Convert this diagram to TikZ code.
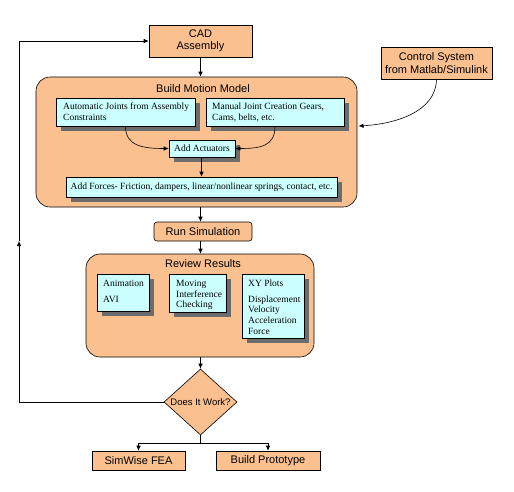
\documentclass[tikz,border=0pt]{standalone}
\usepackage{fontspec}
\setmainfont{Liberation Serif}
\setsansfont{Liberation Sans}
\usetikzlibrary{shapes.geometric,shadows,arrows.meta}
\definecolor{peach}{HTML}{FAC090}
\definecolor{cyanbox}{HTML}{CCFFFF}
\begin{document}
\begin{tikzpicture}[x=1pt,y=-1pt,
  arr/.style={-{Latex[length=5pt,width=4.5pt]},line width=0.6pt},
  orangebox/.style={draw,line width=0.6pt,fill=peach,inner sep=0pt,align=center,
    font=\sffamily\fontsize{11}{12.5}\selectfont},
  bigbox/.style={draw,line width=0.6pt,fill=peach,rounded corners=14pt,inner sep=0pt},
  title/.style={font=\sffamily\fontsize{11}{12.5}\selectfont,inner sep=0pt},
  cyanbox/.style={draw,line width=0.6pt,fill=cyanbox,inner sep=0pt,
    drop shadow={shadow xshift=5pt,shadow yshift=-5pt,fill=gray!85!black,opacity=1},
    font=\fontsize{9.5}{11}\selectfont},
  cyantext/.style={inner sep=0pt,anchor=north west,align=left,
    font=\fontsize{9.5}{10.6}\selectfont}
]
\useasboundingbox (0,0) rectangle (514,491);

% big containers
\node[bigbox,minimum width=321pt,minimum height=130pt] (bmm) at (196.5,142) {};
\node[title] (bmmt) at (203,89) {Build Motion Model};
\node[bigbox,minimum width=228pt,minimum height=103pt] (rr) at (200,305.5) {};
\node[title] (rrt) at (203,264) {Review Results};

% top boxes
\node[orangebox,minimum width=103pt,minimum height=32pt] (cad) at (200.5,41) {CAD\\Assembly};
\node[orangebox,minimum width=111pt,minimum height=32pt] (ctrl) at (436.5,63) {Control System\\from Matlab/Simulink};

% inner cyan boxes
\node[cyanbox,minimum width=139pt,minimum height=28pt] (auto) at (125.5,112) {};
\node[cyantext] (autot) at (63,103) {Automatic Joints from Assembly\\Constraints};
\node[cyanbox,minimum width=138pt,minimum height=28pt] (manual) at (275,112) {};
\node[cyantext] (manualt) at (212,103) {Manual Joint Creation Gears,\\Cams, belts, etc.};
\node[cyanbox,minimum width=66pt,minimum height=17pt] (act) at (202,148.5) {Add Actuators};
\node[cyanbox,minimum width=271pt,minimum height=20pt] (forces) at (201.5,187) {Add Forces- Friction, dampers, linear/nonlinear springs, contact, etc.};

\node[orangebox,rounded corners=3pt,minimum width=98pt,minimum height=19pt] (run) at (203,231.5) {Run Simulation};

\node[cyanbox,minimum width=52pt,minimum height=37pt] (anim) at (123,292.5) {};
\node[cyantext] (animt) at (103,280) {Animation\\[5pt]AVI};
\node[cyanbox,minimum width=57pt,minimum height=38pt] (moving) at (197.5,293) {};
\node[cyantext] (movingt) at (176,280) {Moving\\Interference\\Checking};
\node[cyanbox,minimum width=62pt,minimum height=64pt] (xy) at (273,306) {};
\node[cyantext] (xyt) at (248,280) {XY Plots\\[5pt]Displacement\\Velocity\\Acceleration\\Force};

% decision
\node[draw,line width=0.6pt,fill=peach,diamond,aspect=1.1,minimum width=73pt,minimum height=66pt,inner sep=0pt,
  font=\sffamily\fontsize{9.5}{10}\selectfont] (dw) at (200.5,402) {Does It Work?};

\node[orangebox,minimum width=93pt,minimum height=19pt] (sim) at (138.5,460.5) {SimWise FEA};
\node[orangebox,minimum width=104pt,minimum height=19pt] (proto) at (268,460.5) {Build Prototype};

% connectors
\draw[arr] (cad.south) -- (bmm.north -| cad.south);
\coordinate (cin) at (358.5,126);
\draw[arr] (ctrl.south) .. controls (436,112) and (395,124) .. (cin);
\draw[arr] (auto.south) .. controls +(0,20) and +(-25,0) .. (act.west);
\draw[arr] (manual.south) .. controls +(0,20) and +(25,0) .. (act.east);
\draw[arr] (act.south -| forces.north) -- (forces.north);
\draw[arr] (bmm.south -| cad.south) -- (run.north -| cad.south);
\draw[arr] (run.south -| cad.south) -- (rr.north -| cad.south);
\draw[arr] (rr.south -| dw.north) -- (dw.north);
\coordinate (fb) at (19,241);
\draw[arr] (dw.west) -| (fb);
\draw[arr] (fb) |- (cad.west);
\coordinate (sp) at (200.5,443);
\draw[line width=0.6pt] (dw.south) -- (sp);
\draw[arr] (sp) -| (sim.north);
\draw[arr] (sp) -| (proto.north);
\end{tikzpicture}
\end{document}
